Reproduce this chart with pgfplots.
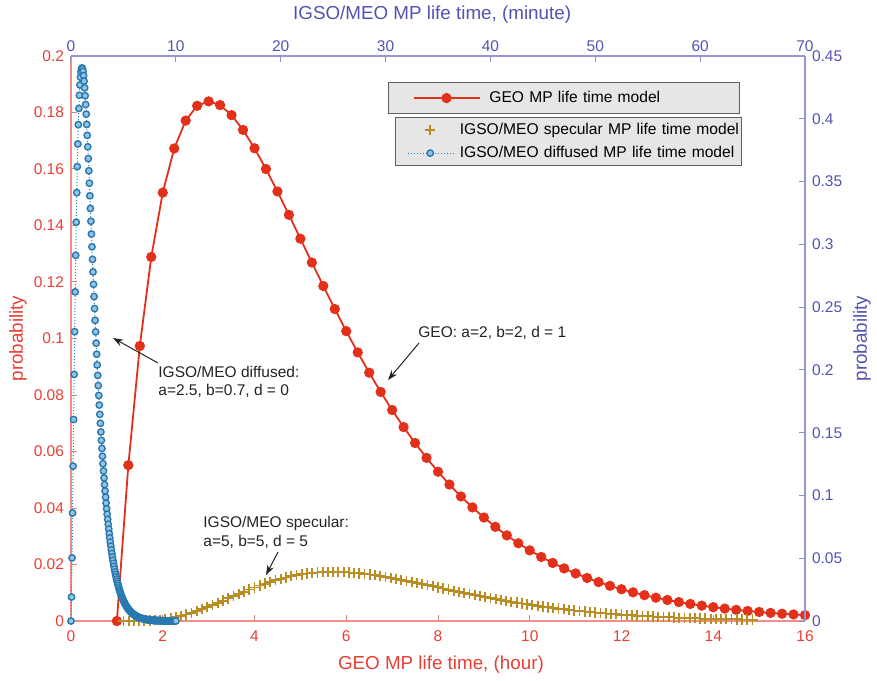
\documentclass[border=0pt]{standalone}
\usepackage{fontspec}
\setmainfont{Liberation Sans}
\usepackage{pgfplots}
\usepackage{pgfplotstable}
\pgfplotsset{compat=1.18}
\usetikzlibrary{arrows.meta}

\definecolor{redtext}{RGB}{232,62,52}
\definecolor{redline}{RGB}{244,140,135}
\definecolor{bluetext}{RGB}{82,82,178}
\definecolor{blueline}{RGB}{150,150,215}
\definecolor{geored}{RGB}{226,48,26}
\definecolor{specgold}{RGB}{184,142,36}
\definecolor{diffblue}{RGB}{44,134,196}
\definecolor{legfill}{RGB}{230,230,230}
\definecolor{legdraw}{RGB}{95,95,95}
\definecolor{annot}{RGB}{35,35,35}

\newcommand{\ticklab}{\fontsize{7.75}{9}\selectfont}
\newcommand{\labfont}{\fontsize{9.4}{11}\selectfont}
\newcommand{\legfont}{\fontsize{7.8}{9}\selectfont}
\newcommand{\annfont}{\fontsize{7.75}{9.3}\selectfont}

% GEO model: hour, probability (left axis)
\pgfplotstableread{
x y
1 0
1.25 0.055156
1.5 0.097350
1.75 0.128867
2 0.151633
2.25 0.167269
2.5 0.177138
2.75 0.182377
3 0.183940
3.25 0.182617
3.5 0.179066
3.75 0.173828
4 0.167348
4.25 0.159991
4.5 0.152052
4.75 0.143770
5 0.135335
5.25 0.126898
5.5 0.118574
5.75 0.110454
6 0.102606
6.25 0.095078
6.5 0.087901
6.75 0.081098
7 0.074681
7.25 0.068652
7.5 0.063008
7.75 0.057743
8 0.052845
8.25 0.048301
8.5 0.044096
8.75 0.040211
9 0.036632
9.25 0.033336
9.5 0.030311
9.75 0.027536
10 0.024995
10.25 0.022672
10.5 0.020549
10.75 0.018610
11 0.016845
11.25 0.015237
11.5 0.013776
11.75 0.012446
12 0.011239
12.25 0.010145
12.5 0.009151
12.75 0.008252
13 0.007437
13.25 0.006701
13.5 0.006031
13.75 0.005432
14 0.004885
14.25 0.004396
14.5 0.003952
14.75 0.003551
15 0.003192
15.25 0.002868
15.5 0.002574
15.75 0.002312
16 0.002074
}\geotable

% IGSO/MEO specular: minute, probability (right axis)
\pgfplotstableread{
x y
5 0
5.5 0.000001
6 0.000011
6.5 0.000050
7 0.000143
7.5 0.000316
8 0.000593
8.5 0.000994
9 0.001534
9.5 0.002223
10 0.003066
10.5 0.004061
11 0.005205
11.5 0.006487
12 0.007894
12.5 0.009413
13 0.011026
13.5 0.012715
14 0.014460
14.5 0.016243
15 0.018045
15.5 0.019846
16 0.021630
16.5 0.023381
17 0.025082
17.5 0.026720
18 0.028285
18.5 0.029763
19 0.031148
19.5 0.032431
20 0.033606
20.5 0.034670
21 0.035618
21.5 0.036450
22 0.037165
22.5 0.037762
23 0.038245
23.5 0.038614
24 0.038872
24.5 0.039024
25 0.039074
25.5 0.039026
26 0.038886
26.5 0.038658
27 0.038347
27.5 0.037962
28 0.037506
28.5 0.036984
29 0.036406
29.5 0.035775
30 0.035094
30.5 0.034371
31 0.033613
31.5 0.032822
32 0.032004
32.5 0.031164
33 0.030305
33.5 0.029433
34 0.028551
34.5 0.027662
35 0.026771
35.5 0.025879
36 0.024990
36.5 0.024106
37 0.023230
37.5 0.022364
38 0.021511
38.5 0.020670
39 0.019845
39.5 0.019036
40 0.018245
40.5 0.017473
41 0.016720
41.5 0.015987
42 0.015275
42.5 0.014583
43 0.013913
43.5 0.013265
44 0.012639
44.5 0.012034
45 0.011451
45.5 0.010889
46 0.010348
46.5 0.009829
47 0.009330
47.5 0.008851
48 0.008392
48.5 0.007953
49 0.007533
49.5 0.007131
50 0.006748
50.5 0.006381
51 0.006032
51.5 0.005699
52 0.005382
52.5 0.005081
53 0.004794
53.5 0.004521
54 0.004262
54.5 0.004016
55 0.003783
55.5 0.003562
56 0.003353
56.5 0.003155
57 0.002967
57.5 0.002789
58 0.002621
58.5 0.002463
59 0.002313
59.5 0.002171
60 0.002038
60.5 0.001912
61 0.001793
61.5 0.001681
62 0.001576
62.5 0.001477
63 0.001383
63.5 0.001295
64 0.001212
64.5 0.001135
65 0.001062
}\spectable

% IGSO/MEO diffused: minute, probability (right axis)
\pgfplotstableread{
x y
0 0
0.05 0.01910
0.10 0.05030
0.15 0.08604
0.20 0.12333
0.25 0.16048
0.30 0.19641
0.35 0.23045
0.40 0.26215
0.45 0.29124
0.50 0.31759
0.55 0.34114
0.60 0.36190
0.65 0.37994
0.70 0.39534
0.75 0.40822
0.80 0.41871
0.85 0.42696
0.90 0.43312
0.95 0.43733
1.00 0.43974
1.05 0.44051
1.10 0.43979
1.15 0.43771
1.20 0.43440
1.25 0.42999
1.30 0.42461
1.35 0.41836
1.40 0.41136
1.45 0.40370
1.50 0.39548
1.55 0.38678
1.60 0.37768
1.65 0.36826
1.70 0.35857
1.75 0.34869
1.80 0.33866
1.85 0.32855
1.90 0.31838
1.95 0.30821
2.00 0.29807
2.05 0.28800
2.10 0.27801
2.15 0.26815
2.20 0.25842
2.25 0.24886
2.30 0.23947
2.35 0.23027
2.40 0.22128
2.45 0.21249
2.50 0.20393
2.55 0.19560
2.60 0.18749
2.65 0.17963
2.70 0.17200
2.75 0.16461
2.80 0.15747
2.85 0.15055
2.90 0.14388
2.95 0.13744
3.00 0.13123
3.05 0.12525
3.10 0.11950
3.15 0.11396
3.20 0.10864
3.25 0.10353
3.30 0.09863
3.35 0.09392
3.40 0.08942
3.45 0.08509
3.50 0.08095
3.55 0.07700
3.60 0.07321
3.65 0.06959
3.70 0.06613
3.75 0.06282
3.80 0.05966
3.85 0.05665
3.90 0.05377
3.95 0.05103
4.00 0.04842
4.05 0.04593
4.10 0.04356
4.15 0.04130
4.20 0.03915
4.25 0.03710
4.30 0.03516
4.35 0.03331
4.40 0.03155
4.45 0.02987
4.50 0.02829
4.55 0.02677
4.60 0.02534
4.65 0.02398
4.70 0.02269
4.75 0.02146
4.80 0.02030
4.85 0.01920
4.90 0.01815
4.95 0.01716
5.00 0.01622
5.05 0.01533
5.10 0.01448
5.15 0.01368
5.20 0.01293
5.25 0.01221
5.30 0.01153
5.35 0.01089
5.40 0.01028
5.45 0.00970
5.50 0.00916
5.55 0.00864
5.60 0.00816
5.65 0.00770
5.70 0.00726
5.75 0.00685
5.80 0.00646
5.85 0.00609
5.90 0.00575
5.95 0.00542
6.00 0.00511
6.05 0.00482
6.10 0.00454
6.15 0.00428
6.20 0.00403
6.25 0.00380
6.30 0.00358
6.35 0.00337
6.40 0.00318
6.45 0.00299
6.50 0.00282
6.55 0.00266
6.60 0.00250
6.65 0.00236
6.70 0.00222
6.75 0.00209
6.80 0.00197
6.85 0.00185
6.90 0.00174
6.95 0.00164
7.00 0.00154
7.05 0.00145
7.10 0.00137
7.15 0.00129
7.20 0.00121
7.25 0.00114
7.30 0.00107
7.35 0.00101
7.40 0.00095
7.45 0.00089
7.50 0.00084
7.55 0.00079
7.60 0.00074
7.65 0.00070
7.70 0.00065
7.75 0.00062
7.80 0.00058
7.85 0.00054
7.90 0.00051
7.95 0.00048
8.00 0.00045
8.05 0.00042
8.10 0.00040
8.15 0.00037
8.20 0.00035
8.25 0.00033
8.30 0.00031
8.35 0.00029
8.40 0.00027
8.45 0.00026
8.50 0.00024
8.55 0.00023
8.60 0.00021
8.65 0.00020
8.70 0.00019
8.75 0.00018
8.80 0.00017
8.85 0.00016
8.90 0.00015
8.95 0.00014
9.00 0.00013
9.05 0.00012
9.10 0.00011
9.15 0.00011
9.20 0.00010
9.25 0.00009
9.30 0.00009
9.35 0.00008
9.40 0.00008
9.45 0.00007
9.50 0.00007
9.55 0.00006
9.60 0.00006
9.65 0.00006
9.70 0.00005
9.75 0.00005
9.80 0.00005
9.85 0.00004
9.90 0.00004
9.95 0.00004
10.00 0.00004
}\difftable

\pgfplotsset{
  common/.style={
    scale only axis, width=367pt, height=282.5pt,
    at={(0pt,0pt)}, anchor=south west, clip=false,
    tick align=inside, major tick length=3pt,
    scaled x ticks=false, scaled y ticks=false,
    /pgf/number format/.cd, fixed, precision=2, assume math mode=true,
    /pgfplots/.cd,
    ticklabel style={font=\ticklab},
    label style={font=\labfont},
    legend cell align=left,
  },
  geoleg/.style={legend image code/.code={
    \draw[mark repeat=2, mark phase=2, ##1] plot coordinates {(12pt,0pt) (28.5pt,0pt) (45pt,0pt)};
    \path (0pt,0pt) (49.5pt,0pt);}},
  specleg/.style={legend image code/.code={
    \draw[##1] plot coordinates {(17pt,0pt)};
    \path (0pt,0pt) (31.5pt,0pt);}},
  diffleg/.style={legend image code/.code={
    \draw[mark repeat=2, mark phase=2, ##1] plot coordinates {(6pt,0pt) (17pt,0pt) (29pt,0pt)};
    \path (0pt,0pt) (31.5pt,0pt);}},
}

\begin{document}
\begin{tikzpicture}
\useasboundingbox (-35.5pt,-29.5pt) rectangle (403pt,310.5pt);

% ---- axis 1: GEO, hours / left probability
\begin{axis}[common,
  xmin=0, xmax=16, ymin=0, ymax=0.2,
  xtick={0,2,4,6,8,10,12,14,16},
  ytick={0,0.02,0.04,0.06,0.08,0.1,0.12,0.14,0.16,0.18,0.2},
  axis x line*=bottom, axis y line*=left,
  axis line style={-, draw=redline, line width=0.7pt},
  tick style={draw=redline!70!gray, line width=0.5pt},
  ticklabel style={text=redtext},
  xlabel={GEO MP life time, (hour)},
  ylabel={probability},
  xlabel style={text=redtext, at={([yshift=-22pt]axis description cs:0.504,0)}, anchor=center},
  ylabel style={text=redtext, at={([xshift=-26.5pt]axis description cs:0,0.5)}, anchor=center},
  xticklabel style={yshift=-1.5pt},
  legend style={at={(0.4319,0.954)}, anchor=north west,
    fill=legfill, draw=legdraw, line width=0.6pt,
    inner xsep=0pt, inner ysep=0pt, row sep=0pt, column sep=0pt,
    nodes={inner xsep=0pt, inner ysep=0pt, text width=125pt,
      minimum height=15.5pt, font=\legfont, text=black}},
]
\addplot[geoleg, color=geored, line width=0.9pt, mark=*, mark size=2.1pt,
  mark options={fill=geored, draw=geored}] table[x=x, y=y] {\geotable};
\addlegendentry{GEO MP life time model}
\end{axis}

% ---- axis 2: IGSO/MEO, minutes / right probability
\begin{axis}[common,
  xmin=0, xmax=70, ymin=0, ymax=0.45,
  xtick={0,10,20,30,40,50,60,70},
  ytick={0,0.05,0.1,0.15,0.2,0.25,0.3,0.35,0.4,0.45},
  axis x line*=top, axis y line*=right,
  axis line style={-, draw=blueline, line width=0.7pt},
  tick style={draw=blueline!80!gray, line width=0.5pt},
  ticklabel style={text=bluetext},
  xticklabel style={yshift=-1.5pt},
  xlabel={IGSO/MEO MP life time, (minute)},
  ylabel={probability},
  xlabel style={text=bluetext, at={([yshift=20.5pt]axis description cs:0.492,1)}, anchor=center},
  ylabel style={text=bluetext, at={([xshift=28.5pt]axis description cs:1,0.5)}, anchor=center, rotate=0},
  legend style={at={(0.4414,0.892)}, anchor=north west,
    fill=legfill, draw=legdraw, line width=0.6pt,
    inner xsep=0pt, inner ysep=0.5pt, row sep=0pt, column sep=0pt,
    nodes={inner xsep=0pt, inner ysep=0pt, text width=141pt,
      minimum height=11.5pt, font=\legfont, text=black}},
]
\addplot[specleg, only marks, color=specgold, mark=+, mark size=2.6pt,
  mark options={line width=0.9pt}] table[x=x, y=y] {\spectable};
\addlegendentry{IGSO/MEO specular MP life time model}
\addplot[diffleg, color=diffblue, densely dotted, line width=0.5pt, mark=*, mark size=1.6pt,
  mark options={solid, fill=diffblue!50!white, draw=diffblue!90!black, line width=0.7pt}]
  table[x=x, y=y] {\difftable};
\addlegendentry{IGSO/MEO diffused MP life time model}
\end{axis}

% ---- annotations
\node[anchor=west, font=\annfont, text=annot, inner sep=0pt] at (173.5pt,144pt) {GEO: a=2, b=2, d = 1};
\draw[-{Stealth[length=5pt,width=3.5pt]}, annot, line width=0.5pt] (174pt,139pt) -- (158.5pt,120.5pt);

\node[anchor=west, font=\annfont, text=annot, inner sep=0pt, align=left] at (43.5pt,119.5pt) {IGSO/MEO diffused:\\a=2.5, b=0.7, d = 0};
\draw[-{Stealth[length=5pt,width=3.5pt]}, annot, line width=0.5pt] (43.5pt,129pt) -- (21pt,141.5pt);

\node[anchor=west, font=\annfont, text=annot, inner sep=0pt, align=left] at (66pt,44.25pt) {IGSO/MEO specular:\\a=5, b=5, d = 5};
\draw[-{Stealth[length=5pt,width=3.5pt]}, annot, line width=0.5pt] (103.5pt,34.5pt) -- (97.5pt,23pt);
\end{tikzpicture}
\end{document}
